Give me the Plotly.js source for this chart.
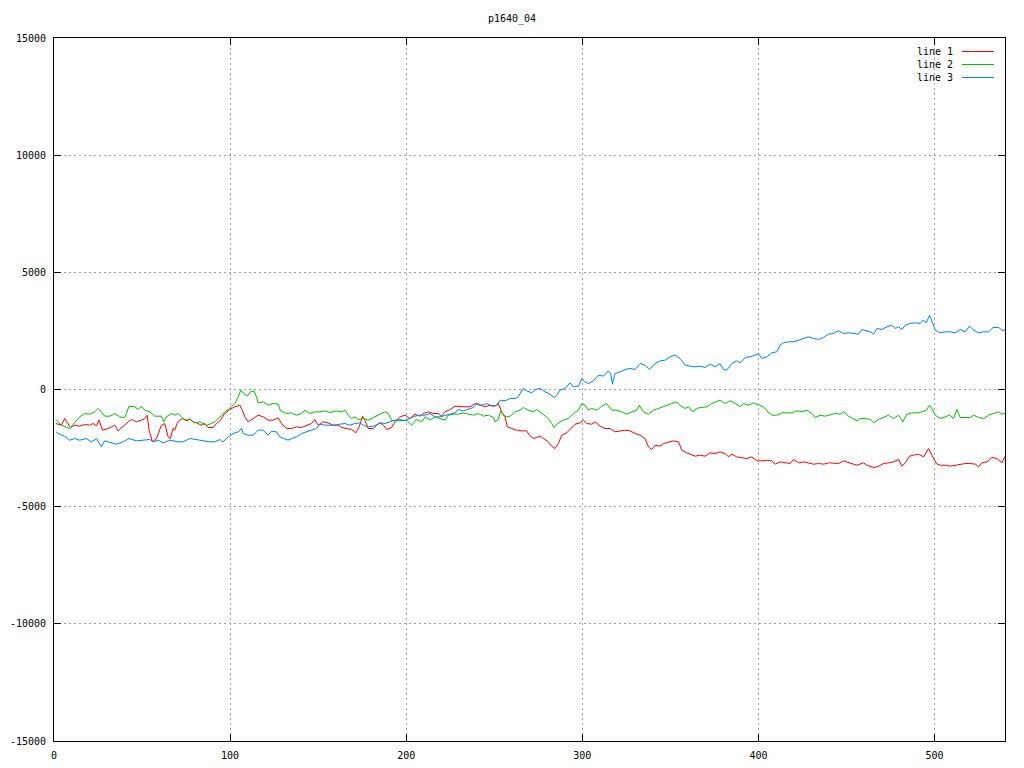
<!DOCTYPE html>
<html>
<head>
<meta charset="utf-8">
<script src="https://cdn.plot.ly/plotly-3.0.1.min.js"></script>
<style>html,body{margin:0;padding:0;background:#fff;}#chart{width:1024px;height:768px;}</style>
</head>
<body>
<div id="chart"></div>
<script>
const chartTitle = "p1640_04";
const seriesNames = ["line 1", "line 2", "line 3"];
const seriesColors = ["#ff0000", "#00c000", "#0080ff"];
const xTickVals = [0, 100, 200, 300, 400, 500];
const yTickVals = [-15000, -10000, -5000, 0, 5000, 10000, 15000];
const yTickText = ["-15000", "-10000", "-5000", "0", "5000", "10000", "15000"];

const x1 = [1,4.2,6.1,8.0,9.3,11.8,14.6,17.4,20.3,22.2,24.1,25.6,26.4,27.5,30.7,32.6,34.5,36.4,38.3,40.2,42.1,44.0,46.8,49.6,51.5,52.9,54.0,55.9,58.2,61.0,62.9,64.8,66.1,67.6,68.6,69.9,71.4,73.3,75.6,77.1,79.0,80.9,83.7,85.6,87.5,90.4,92.3,94.2,
97.0,99.8,102.7,105.5,106.5,108.4,110.3,113.1,115.9,118.8,121.6,124.5,127.3,129.2,132.0,134.9,137.7,140.6,143.4,146.2,148.1,150.0,152.9,155.7,158.5,161.4,163.3,166.1,169.0,171.4,173.3,175.2,176.5,178.4,181.3,184.1,
185.1,187.0,188.9,191.7,193.6,196.4,199.3,202.1,204.9,207.8,209.7,212.5,215.4,218.2,220.1,222.0,224.9,227.7,230.5,233.4,236.2,239.1,241.9,244.7,247.6,250.4,252.3,254.2,256.1,257.4,259.9,262.7,265.6,268.4,269.9,272.2,274.1,276.0,
277.9,280.7,282.6,284.5,286.4,288.3,291.1,293.9,295.9,298.7,300.6,302.5,305.3,307.2,310.1,312.9,315.8,318.6,321.4,324.3,327.1,330.0,332.8,335.6,337.5,339.4,341.3,344.2,346.1,348.9,351.7,354.6,356.5,359.3,362.2,364.0,366.9,
369.7,372.6,375.4,378.2,381.1,383.0,384.9,387.7,390.5,393.4,396.2,399.1,401.9,404.8,407.6,409.5,412.3,415.2,418.0,419.9,422.8,425.6,428.4,431.3,434.1,437.0,439.8,442.6,445.5,448.3,451.2,454.0,455.9,457.8,
459.7,461.6,465.4,468.2,471.0,473.9,476.7,479.6,481.5,483.4,485.8,488.1,490.9,493.8,496.6,498.5,501.0,503.2,506.1,508.9,511.8,514.6,517.4,520.3,523.2,525.0,526.9,529.8,532.6,535.4,538.3,540];
const y1 = [-1451,-1523,-1238,-1451,-1622,-1523,-1565,-1494,-1523,-1451,-1551,-1309,-1480,-1736,-1665,-1594,-1523,-1765,-1622,-1523,-1380,-1281,-1380,-1309,-1238,-1096,-1736,-2234,-2092,-1523,-1451,-2021,-2092,-1665,-1736,-1451,-1309,-1238,-1338,-1238,-1380,-1423,-1523,-1451,-1622,-1622,-1451,-1338,
-1025,-854,-740,-669,-811,-1167,-1380,-1238,-1096,-1167,-1309,-1309,-1210,-1451,-1665,-1665,-1594,-1622,-1523,-1451,-1281,-1523,-1380,-1423,-1523,-1523,-1622,-1665,-1708,-1850,-1594,-1138,-1309,-1665,-1665,-1451,
-1423,-1523,-1708,-1622,-1380,-1167,-1096,-1238,-1053,-1138,-1025,-953,-1025,-1025,-1138,-953,-854,-712,-740,-740,-740,-598,-669,-740,-669,-712,-598,-953,-1167,-1594,-1665,-1736,-1765,-1765,-1950,-2092,-2049,-1992,
-2092,-2234,-2419,-2519,-2305,-1950,-1850,-1622,-1480,-1423,-1309,-1451,-1480,-1380,-1565,-1665,-1665,-1807,-1765,-1736,-1765,-1878,-1950,-2092,-2448,-2561,-2377,-2419,-2305,-2234,-2191,-2234,-2590,-2704,-2803,-2846,-2803,
-2846,-2704,-2732,-2661,-2732,-2875,-2761,-2875,-2903,-2946,-2875,-3045,-3045,-3017,-3045,-3187,-3088,-3131,-3159,-2988,-3131,-3088,-3131,-3187,-3159,-3187,-3131,-3131,-3159,-3045,-3131,-3187,-3230,-3187,
-3131,-3230,-3330,-3273,-3159,-3131,-3088,-2988,-3273,-3131,-2846,-2803,-2761,-2875,-2519,-2803,-3159,-3230,-3230,-3273,-3230,-3187,-3159,-3159,-3187,-3301,-3131,-3088,-2903,-2946,-3131,-2846];

const x2 = [1,4.2,8.9,12.7,14.6,17.4,20.3,23.1,25.0,26.9,28.8,31.7,34.5,37.3,40.2,41.1,42.6,45.9,47.8,49.6,51.5,54.4,57.2,61.0,62.3,63.8,66.7,68.6,70.5,72.4,74.3,77.1,79.9,82.8,86.6,89.4,91.3,94.2,
97.0,99.8,102.7,104.6,106.1,107.4,109.7,111.6,113.5,115.0,115.9,118.8,121.6,124.5,127.3,128.6,132.0,134.9,137.7,140.6,142.4,145.3,148.1,151.0,153.8,156.7,160.4,163.3,165.2,167.1,169.0,170.9,172.7,175.6,178.4,181.3,184.1,
186.0,187.9,189.8,191.7,194.6,197.4,200.2,203.1,205.9,208.8,210.7,213.5,216.3,219.2,222.0,223.9,226.8,229.6,232.4,235.3,238.1,240.9,243.8,246.6,249.5,250.4,252.3,253.6,255.2,257.1,259.0,261.8,264.6,266.5,269.4,272.2,274.1,276.0,
277.9,280.7,282.6,283.9,286.4,289.2,292.1,294.9,297.8,299.7,301.6,303.4,305.3,308.2,311.0,313.9,316.7,319.5,322.4,325.2,328.1,330.9,332.4,334.7,337.5,340.4,343.2,346.1,348.9,350.8,353.3,355.5,358.4,360.3,362.7,365.0,366.9,
367.8,370.7,373.5,376.4,378.2,381.1,383.9,386.8,389.6,391.5,394.3,397.2,400.0,402.9,404.8,407.6,410.4,413.3,416.1,419.0,421.8,424.6,427.5,430.3,432.2,435.1,437.9,440.7,443.6,446.4,448.3,451.2,454.0,455.9,457.8,
460.6,463.5,465.4,468.2,471.0,473.9,476.7,479.6,482.0,484.3,487.1,490.0,492.8,495.3,497.2,498.5,500.4,503.2,506.1,508.5,510.8,512.7,514.6,517.4,520.3,522.2,525.0,527.9,530.7,533.5,536.4,538.3,540];
const y2 = [-1281,-1523,-1665,-1309,-1167,-1025,-1053,-953,-811,-953,-1138,-1138,-1025,-1167,-1195,-1025,-712,-740,-854,-712,-882,-953,-1138,-1138,-1380,-1167,-1025,-1096,-1025,-1167,-1309,-1281,-1423,-1380,-1523,-1451,-1380,-1167,
-953,-811,-598,-313,-28,-142,-285,-100,-57,-313,-569,-527,-669,-598,-626,-911,-1025,-996,-1096,-1025,-882,-1025,-953,-953,-911,-982,-911,-953,-882,-1096,-1238,-1167,-1281,-1238,-1309,-1195,-1096,
-996,-953,-1025,-1309,-1338,-1309,-1309,-1523,-1281,-1380,-1167,-1309,-1167,-1238,-1309,-1096,-1053,-1053,-996,-1053,-1096,-1025,-1138,-1096,-1195,-1380,-1281,-911,-1096,-1167,-1138,-953,-882,-768,-882,-953,-854,-953,
-1053,-1238,-1451,-1622,-1423,-1309,-1238,-1025,-882,-598,-669,-882,-811,-882,-712,-598,-882,-882,-953,-1053,-953,-882,-669,-953,-1053,-882,-811,-740,-669,-598,-527,-669,-811,-740,-953,-811,-768,
-768,-740,-598,-527,-455,-598,-484,-598,-740,-598,-669,-569,-669,-740,-911,-1096,-1096,-996,-996,-996,-911,-953,-882,-1025,-1195,-1096,-1138,-1096,-1025,-1053,-953,-1138,-1238,-1338,-1238,
-1238,-1281,-1423,-1281,-1195,-1096,-1238,-1096,-1380,-1053,-996,-996,-953,-882,-669,-811,-1096,-1238,-1167,-1096,-1238,-854,-1195,-1195,-1195,-1096,-1195,-1238,-1096,-1025,-953,-1053,-1025];

const x3 = [1,4.2,6.1,8.9,11.8,14.6,18.4,21.2,24.1,26.9,28.8,32.6,35.4,39.2,42.6,46.8,50.6,54.4,56.3,59.1,62.0,65.7,70.5,73.3,77.1,79.9,82.8,88.5,91.3,94.2,
96.0,98.9,101.7,104.6,106.5,107.4,110.3,113.1,115.9,118.8,121.6,123.5,126.3,128.2,131.1,132.9,134.9,137.7,140.6,143.4,146.2,149.1,151.0,153.8,156.7,159.5,162.3,165.2,168.0,170.9,173.7,175.6,178.4,181.3,184.1,
185.1,187.9,190.8,193.6,196.4,199.3,202.1,204.9,207.8,210.7,213.5,216.3,219.2,222.0,224.9,227.7,229.6,232.4,235.3,238.1,240.0,242.8,245.7,248.5,251.4,253.3,256.1,259.0,261.8,263.7,266.2,268.4,271.3,273.2,276.0,
278.8,281.7,283.9,285.5,287.3,290.2,293.0,294.9,297.8,299.7,301.6,303.4,306.3,309.1,312.0,314.8,316.1,317.1,318.6,321.4,324.3,327.1,330.0,332.8,335.6,338.1,341.3,344.2,347.0,349.8,352.7,355.5,358.4,361.2,364.0,366.9,
369.7,372.6,375.4,378.2,380.1,382.0,384.9,387.7,389.6,392.5,395.3,398.1,400.0,401.9,404.8,407.6,410.4,412.3,414.2,417.1,419.9,422.8,425.6,428.4,431.3,434.1,437.0,439.8,442.6,445.5,448.3,451.2,454.0,456.8,
458.7,461.6,463.5,465.4,467.3,470.1,472.9,475.8,477.7,479.6,481.5,483.4,486.2,489.0,491.9,493.4,495.3,497.2,499.1,500.4,503.2,506.1,508.9,511.8,514.6,517.4,519.9,522.2,525.0,527.9,530.7,533.2,536.4,538.8,540];
const y3 = [-1807,-1950,-1992,-2163,-2092,-2163,-2092,-2234,-2092,-2448,-2191,-2277,-2334,-2234,-2092,-2191,-2163,-2135,-2234,-2163,-2277,-2163,-2234,-2234,-2092,-2135,-2163,-2234,-2234,-2135,
-2234,-2021,-1878,-1807,-1665,-1878,-1950,-1950,-1736,-1736,-1950,-1779,-1807,-2021,-2092,-2163,-2092,-2021,-1878,-1807,-1736,-1665,-1480,-1523,-1523,-1523,-1480,-1451,-1523,-1451,-1423,-1523,-1594,-1565,-1480,
-1423,-1451,-1380,-1309,-1281,-1338,-1238,-1138,-1096,-1096,-1025,-1167,-1167,-1096,-1053,-996,-854,-911,-854,-768,-598,-669,-598,-712,-669,-455,-484,-384,-384,-313,43,-57,-142,0,43,
-100,-199,-342,-242,-28,43,285,114,142,470,327,256,370,612,569,797,683,228,683,754,854,896,854,1110,1039,854,1110,1224,1252,1395,1466,1323,1039,996,968,996,
939,1082,968,1110,854,825,1110,1224,1138,1366,1395,1466,1537,1323,1395,1565,1608,1893,1992,2035,2035,2106,2177,2248,2177,2135,2220,2362,2391,2504,2391,2419,2391,2362,
2561,2504,2462,2362,2604,2561,2675,2746,2604,2675,2561,2746,2818,2846,2818,2960,2846,3173,2746,2533,2419,2462,2462,2419,2561,2462,2704,2533,2419,2462,2462,2647,2647,2504,2561];

const xs = [x1, x2, x3];
const ys = [y1, y2, y3];
const monoFont = "DejaVu Sans Mono, Liberation Mono, monospace";

const traces = seriesNames.map((name, i) => ({
  type: "scatter",
  mode: "lines",
  name: name,
  x: xs[i],
  y: ys[i],
  line: {color: seriesColors[i], width: 1},
  hoverinfo: "skip"
}));

const axisCommon = {
  showline: true,
  linecolor: "#000",
  linewidth: 1,
  mirror: "ticks",
  ticks: "inside",
  ticklen: 7,
  tickcolor: "#000",
  tickwidth: 1,
  showgrid: true,
  gridcolor: "#a0a0a0",
  griddash: "2px,3px",
  gridwidth: 1,
  zeroline: false,
  tickfont: {family: monoFont, size: 10, color: "#000"}
};

// Key drawn gnuplot-style (text right-aligned, sample to its right) inside the top-right corner
const keyTextX = 0.9474, keySampleX0 = 0.9548, keySampleX1 = 0.9884;
const keyRowY = [0.9808, 0.9623, 0.9438];
const keyAnnotations = seriesNames.map((name, i) => ({
  xref: "paper", yref: "paper",
  x: keyTextX, y: keyRowY[i],
  xanchor: "right", yanchor: "middle",
  text: name, showarrow: false,
  font: {family: monoFont, size: 10, color: "#000"}
}));
const keyShapes = seriesColors.map((c, i) => ({
  type: "line", xref: "paper", yref: "paper",
  x0: keySampleX0, x1: keySampleX1, y0: keyRowY[i], y1: keyRowY[i],
  line: {color: c, width: 1}
}));

const layout = {
  width: 1024,
  height: 768,
  margin: {l: 54, r: 19, t: 38, b: 27, pad: 0},
  paper_bgcolor: "#fff",
  plot_bgcolor: "#fff",
  title: {
    text: chartTitle,
    font: {family: monoFont, size: 10, color: "#000"},
    x: 0.5, xanchor: "center",
    y: 1 - 18/768, yanchor: "middle"
  },
  xaxis: Object.assign({}, axisCommon, {
    range: [0, 540],
    tickmode: "array",
    tickvals: xTickVals,
    ticktext: xTickVals.map(String),
    ticklabelstandoff: 5
  }),
  yaxis: Object.assign({}, axisCommon, {
    range: [-15000, 15000],
    tickmode: "array",
    tickvals: yTickVals,
    ticktext: yTickText,
    ticklabelstandoff: 5
  }),
  showlegend: false,
  annotations: keyAnnotations,
  shapes: keyShapes
};

Plotly.newPlot("chart", traces, layout, {displayModeBar: false, staticPlot: true});
</script>
</body>
</html>
